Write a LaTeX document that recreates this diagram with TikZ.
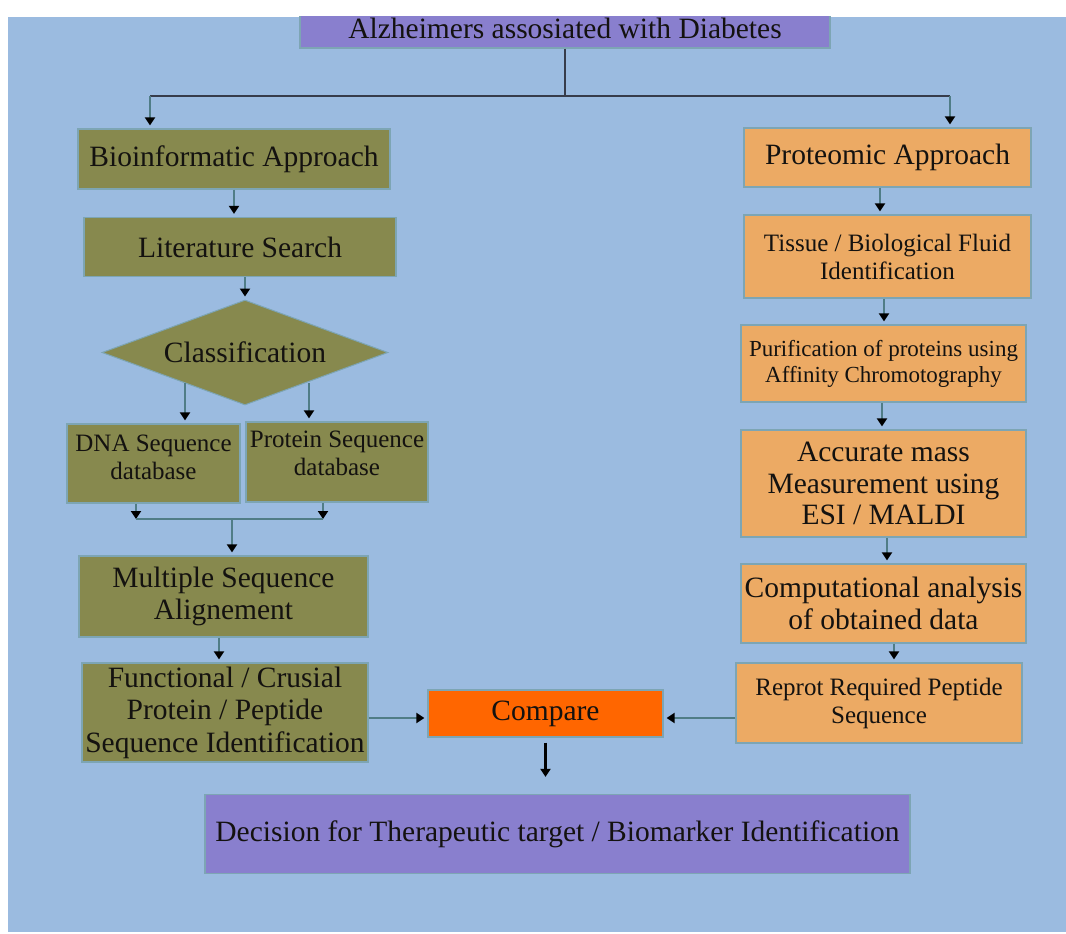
\documentclass[tikz,border=0pt]{standalone}
\usepackage{fontspec}
\setmainfont{Liberation Serif}
\usetikzlibrary{arrows.meta,shapes.geometric,calc}
\definecolor{bgblue}{RGB}{155,187,224}
\definecolor{boxpurple}{RGB}{137,127,206}
\definecolor{boxolive}{RGB}{135,137,78}
\definecolor{boxorange}{RGB}{236,170,100}
\definecolor{boxcmp}{RGB}{255,102,0}
\definecolor{boxborder}{RGB}{125,165,180}
\definecolor{connc}{RGB}{80,125,135}
\definecolor{darkline}{RGB}{55,60,75}
\definecolor{txt}{RGB}{20,18,16}
\begin{document}
\begin{tikzpicture}[x=1pt,y=-1pt,
  box/.style={draw=boxborder, line width=1.2pt, inner sep=0pt, align=center, text=txt},
  dia/.style={diamond, draw=boxborder, line width=1pt, inner sep=0pt},
  big/.style={font=\fontsize{29.5}{31.5}\selectfont},
  mid/.style={font=\fontsize{25}{28}\selectfont},
  small/.style={font=\fontsize{23}{26}\selectfont},
  tip/.style={-{Triangle[width=10pt,length=8pt,color=black]}},
  conn/.style={draw=connc, line width=2.8pt, tip, shorten >=3pt},
  plainconn/.style={draw=connc, line width=2.8pt},
  topline/.style={draw=darkline, line width=2pt},
  blackconn/.style={draw=black, line width=2.8pt, tip, shorten <=5pt, shorten >=17pt}
]
\useasboundingbox (0,0) rectangle (1066,934);
\fill[white] (0,0) rectangle (1066,934);
\fill[bgblue] (8,17) rectangle (1066,932);

\begin{scope}
\clip (8,17) rectangle (1066,932);
\node[box,big,fill=boxpurple,minimum width=530,minimum height=40] (top) at (565,28) {Alzheimers assosiated with Diabetes};
\end{scope}

% left column
\node[box,big,fill=boxolive,minimum width=312,minimum height=60] (bio) at (234,159) {Bioinformatic Approach};
\node[box,big,fill=boxolive,minimum width=312,minimum height=59] (lit) at (240,247) {Literature Search};
\node[dia,fill=boxolive,minimum width=286,minimum height=105] (cls) at (245,352.5) {};
\node[big,text=txt] (clstext) at (cls) {Classification};
\node[box,mid,fill=boxolive,minimum width=173,minimum height=79,text depth=12pt] (dna) at (153.5,463.5) {DNA Sequence\\database};
\node[box,mid,fill=boxolive,minimum width=182,minimum height=80,text depth=18pt] (prot) at (337,462) {Protein Sequence\\database};
\node[box,big,fill=boxolive,minimum width=289,minimum height=81] (msa) at (223.5,596.5) {Multiple Sequence\\Alignement};
\node[box,font=\fontsize{29.5}{32.5}\selectfont,fill=boxolive,minimum width=286,minimum height=99] (func) at (225,712.5) {Functional / Crusial\\Protein / Peptide\\Sequence Identification};
\node[box,big,fill=boxcmp,minimum width=235,minimum height=47] (cmp) at (545.5,713.5) {Compare};
\node[box,big,fill=boxpurple,minimum width=705,minimum height=79] (dec) at (557.5,834) {Decision for Therapeutic target / Biomarker Identification};

% right column
\node[box,big,fill=boxorange,minimum width=287,minimum height=59] (pa) at (887.5,157.5) {Proteomic Approach};
\node[box,mid,fill=boxorange,minimum width=287,minimum height=83] (tis) at (887.5,256.5) {Tissue / Biological Fluid\\Identification};
\node[box,small,fill=boxorange,minimum width=285,minimum height=77] (pur) at (883.5,363.5) {Purification of proteins using\\Affinity Chromotography};
\node[box,big,fill=boxorange,minimum width=285,minimum height=107] (acc) at (883.5,483.5) {Accurate mass\\Measurement using\\ESI / MALDI};
\node[box,big,fill=boxorange,minimum width=285,minimum height=79] (cmpu) at (883.5,603.5) {Computational analysis\\of obtained data};
\node[box,mid,fill=boxorange,minimum width=286,minimum height=80] (rep) at (879,703) {Reprot Required Peptide\\Sequence};

% top split
\coordinate (jT) at (565,96);
\coordinate (jL) at (150,96);
\coordinate (jR) at (950,96);
\draw[topline] (top.south) -- (jT);
\draw[topline] (jL) -- (jR);
\draw[conn] (jL) -- (jL |- bio.north);
\draw[conn] (jR) -- (jR |- pa.north);

% left flow
\draw[conn] (bio.south) -- (bio.south |- lit.north);
\draw[conn] (cls.north |- lit.south) -- (cls.north);
\coordinate (d1) at (185,383);
\coordinate (d2) at (309,383);
\draw[conn] (d1) -- (d1 |- dna.north);
\draw[conn] (d2) -- (d2 |- prot.north);
\coordinate (m1) at (136,519);
\coordinate (m2) at (323,519);
\coordinate (m3) at (232,519);
\draw[conn,shorten >=0pt] (m1 |- dna.south) -- (m1);
\draw[conn,shorten >=0pt] (m2 |- prot.south) -- (m2);
\draw[plainconn] (m1) -- (m2);
\draw[conn] (m3) -- (m3 |- msa.north);
\coordinate (f1) at (219,640);
\draw[conn] (f1 |- msa.south) -- (f1 |- func.north);
\coordinate (ca) at (545.5,718);
\draw[conn] (func.east |- ca) -- (cmp.west |- ca);
\draw[conn] (rep.west |- ca) -- (cmp.east |- ca);
\draw[blackconn] (cmp.south) -- (cmp.south |- dec.north);

% right flow
\coordinate (r1) at (880,0);
\coordinate (r2) at (884,0);
\coordinate (r3) at (882,0);
\coordinate (r4) at (887,0);
\coordinate (r5) at (894,0);
\draw[conn] (r1 |- pa.south) -- (r1 |- tis.north);
\draw[conn] (r2 |- tis.south) -- (r2 |- pur.north);
\draw[conn] (r3 |- pur.south) -- (r3 |- acc.north);
\draw[conn] (r4 |- acc.south) -- (r4 |- cmpu.north);
\draw[conn] (r5 |- cmpu.south) -- (r5 |- rep.north);
\end{tikzpicture}
\end{document}
